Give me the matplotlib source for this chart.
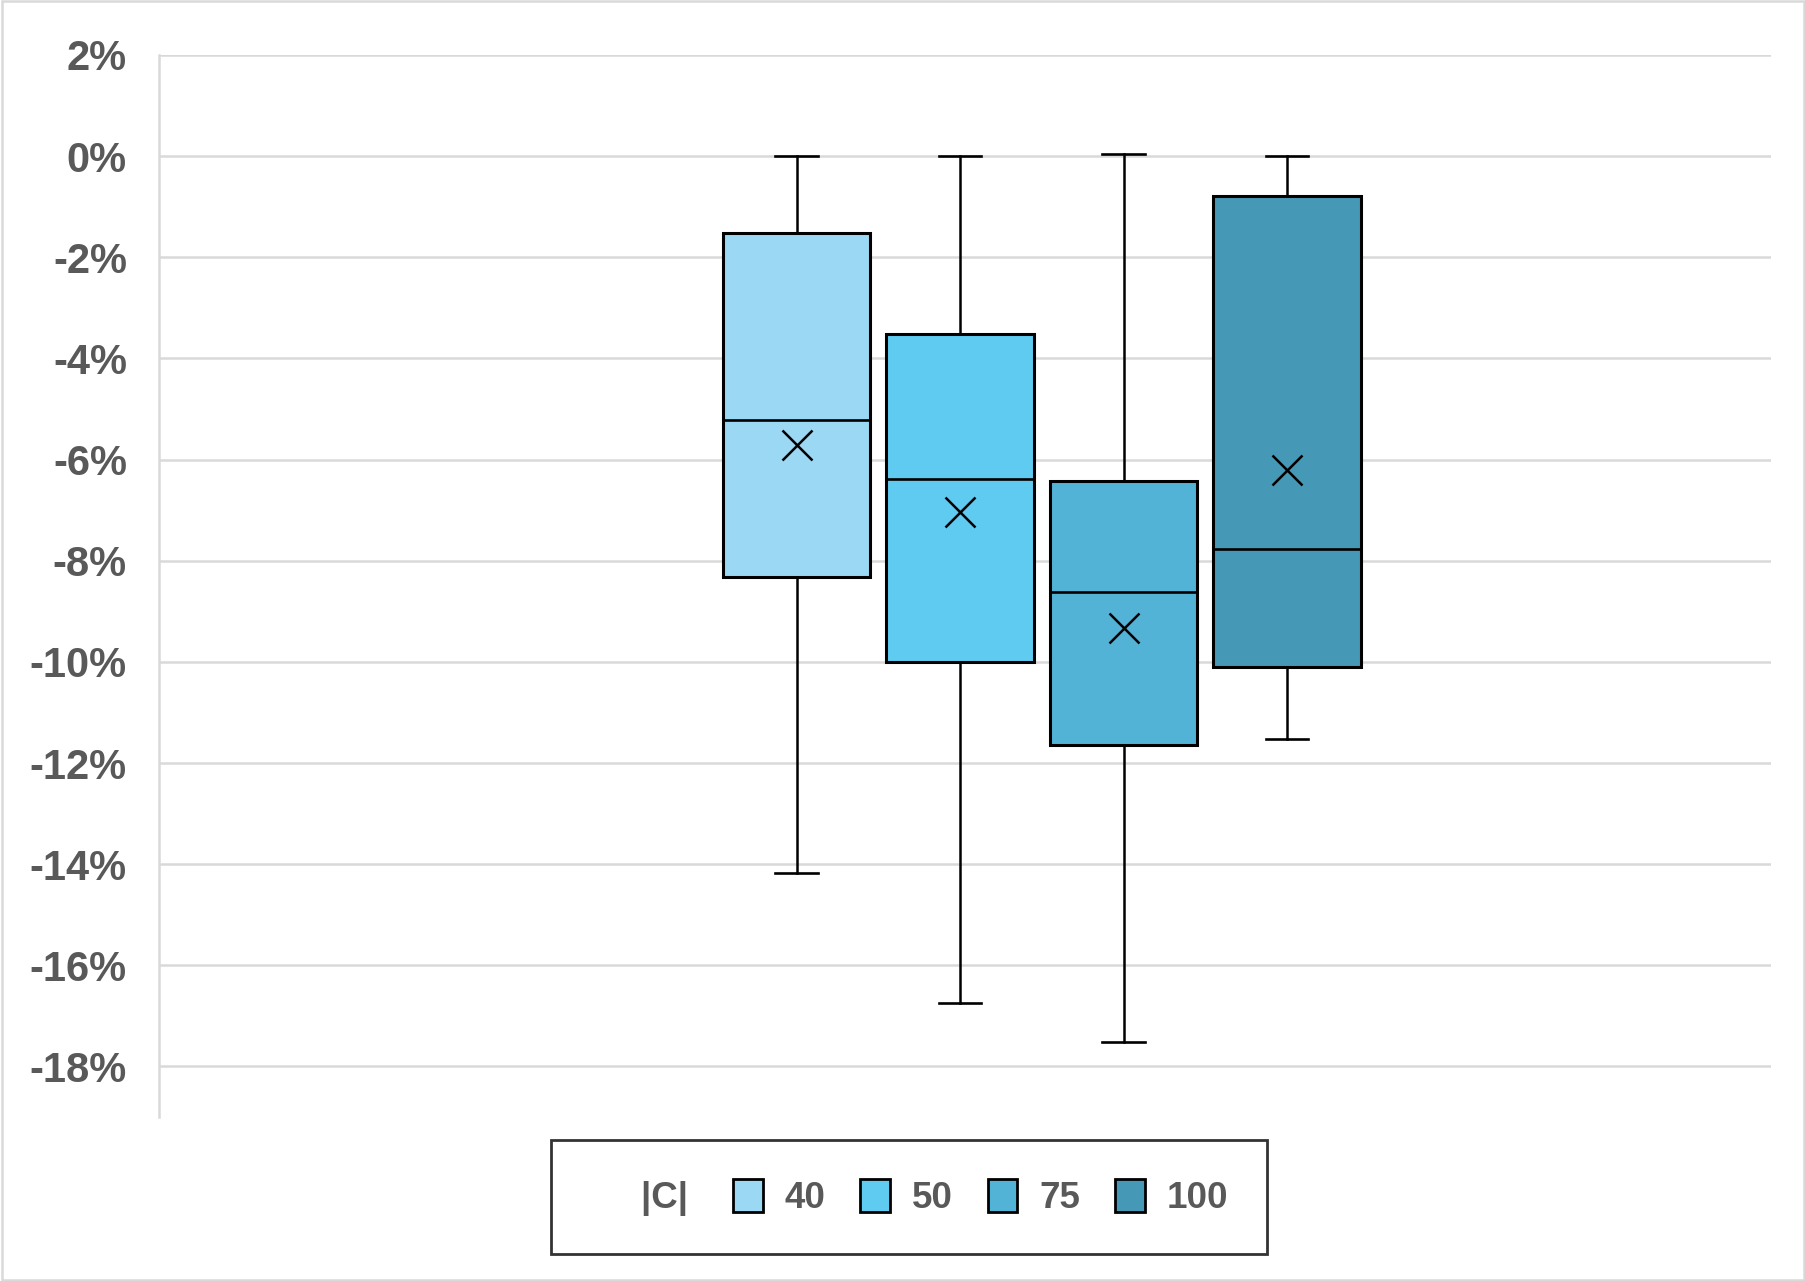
import numpy as np
import matplotlib
matplotlib.use("Agg")
import matplotlib.pyplot as plt
from matplotlib.patches import Patch, Rectangle

# |C| groups, values in fraction
groups   = ["40", "50", "75", "100"]
whis_hi  = [0.0000, 0.0000, 0.0004, 0.0000]
q3       = [-0.0152, -0.0352, -0.0642, -0.0079]
median   = [-0.0522, -0.0638, -0.0861, -0.0776]
mean     = [-0.0571, -0.0704, -0.0933, -0.0621]
q1       = [-0.0833, -0.1001, -0.1165, -0.1010]
whis_lo  = [-0.1418, -0.1675, -0.1752, -0.1152]
colors   = ["#9BD8F4", "#5FCBF1", "#52B3D7", "#4598B6"]

yticks      = [0.02, 0.0, -0.02, -0.04, -0.06, -0.08, -0.10, -0.12, -0.14, -0.16, -0.18]
ytick_labels = ["2%", "0%", "-2%", "-4%", "-6%", "-8%", "-10%", "-12%", "-14%", "-16%", "-18%"]

grey = "#595959"
gridc = "#D9D9D9"

fig = plt.figure(figsize=(18.06, 12.81), dpi=100)
ax = fig.add_axes([0.088, 0.128, 0.8926, 0.8291])

stats = []
for i in range(len(groups)):
    stats.append(dict(label=groups[i], med=median[i], q1=q1[i], q3=q3[i],
                      whislo=whis_lo[i], whishi=whis_hi[i], mean=mean[i], fliers=[]))

pos = [1, 2, 3, 4]
bp = ax.bxp(stats, positions=pos, widths=0.9, capwidths=0.26, patch_artist=True,
            showmeans=True, showfliers=False,
            boxprops=dict(edgecolor="black", linewidth=2.2),
            medianprops=dict(color="black", linewidth=1.9),
            whiskerprops=dict(color="black", linewidth=1.8),
            capprops=dict(color="black", linewidth=1.9),
            meanprops=dict(marker="x", markeredgecolor="black", markersize=21,
                           markeredgewidth=1.8, linestyle="none"),
            zorder=3)
for patch, c in zip(bp["boxes"], colors):
    patch.set_facecolor(c)

ax.set_xlim(-2.90, 6.96)
ax.set_ylim(-0.19, 0.02)
ax.set_yticks(yticks)
ax.set_yticklabels(ytick_labels)
ax.set_xticks([])
ax.yaxis.grid(True, color=gridc, linewidth=1.8, zorder=0)
ax.set_axisbelow(True)
for s in ["top", "right", "bottom"]:
    ax.spines[s].set_visible(False)
ax.spines["left"].set_color(gridc)
ax.spines["left"].set_linewidth(1.8)
ax.tick_params(axis="y", length=0, pad=23)
for lab in ax.get_yticklabels():
    lab.set_fontfamily(["Liberation Sans", "DejaVu Sans"])
    lab.set_fontweight("bold")
    lab.set_fontsize(30)
    lab.set_color(grey)

# legend with "|C|" as a leading entry
handles = [Patch(facecolor="none", edgecolor="none")]
labels = ["|C| "]
for g, c in zip(groups, colors):
    handles.append(Patch(facecolor=c, edgecolor="black", linewidth=2.0))
    labels.append(g)
leg = fig.legend(handles, labels, loc="upper center", bbox_to_anchor=(0.5032, 0.110),
                 ncol=5, frameon=True, fancybox=False, handlelength=0.8, handleheight=1.0,
                 handletextpad=0.6, columnspacing=0.95, borderpad=1.05, borderaxespad=0,
                 prop=dict(family=["Liberation Sans Narrow", "Liberation Sans", "DejaVu Sans"],
                           weight="bold", size=26.5))
leg.get_frame().set_edgecolor("black")
leg.get_frame().set_linewidth(2.0)
for t in leg.get_texts():
    t.set_color(grey)

# outer chart border
fig.patches.append(Rectangle((0.001, 0.001), 0.998, 0.998, transform=fig.transFigure,
                             fill=False, edgecolor=gridc, linewidth=1.8))

fig.savefig("out.png", dpi=100)
